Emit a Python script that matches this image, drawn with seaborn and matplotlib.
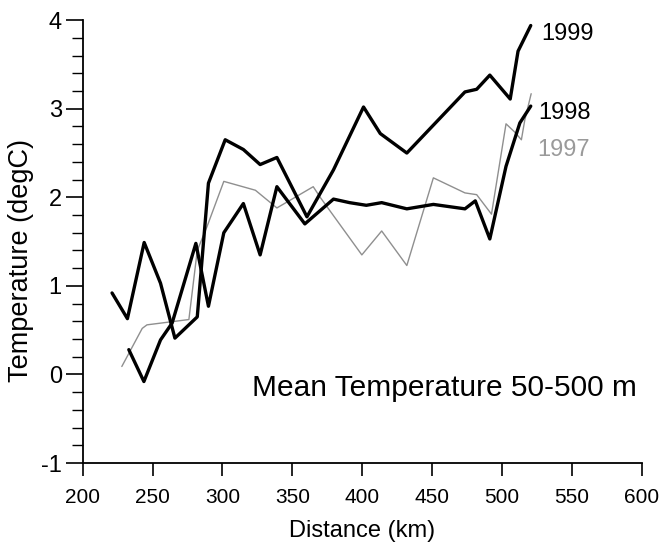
import pandas as pd
import matplotlib
matplotlib.use("Agg")
import matplotlib.pyplot as plt
import seaborn as sns
from matplotlib.ticker import MultipleLocator

# mean temperature 50-500 m along the section
dist_1999 = [221, 232, 244, 255.7, 266, 282, 290, 302, 315, 327, 339, 360.5, 379.5,
             401, 413, 432, 473.6, 482, 491.4, 506, 511.6, 520.7]
temp_1999 = [0.92, 0.63, 1.49, 1.03, 0.41, 0.65, 2.16, 2.65, 2.54, 2.37, 2.45, 1.78, 2.31,
             3.02, 2.72, 2.50, 3.19, 3.22, 3.38, 3.11, 3.65, 3.94]

dist_1998 = [233, 243.8, 255.7, 264, 281, 290, 301, 315, 327, 339, 359, 379.5, 391,
             403, 414, 432, 451, 473.6, 481, 491.4, 503, 512.9, 520.7]
temp_1998 = [0.28, -0.08, 0.39, 0.58, 1.48, 0.77, 1.60, 1.93, 1.35, 2.12, 1.70, 1.98, 1.94,
             1.91, 1.94, 1.87, 1.92, 1.87, 1.96, 1.53, 2.35, 2.84, 3.03]

dist_1997 = [228, 242.6, 246, 276, 282, 289, 301, 323.6, 339, 365, 370, 399.8, 414,
             432, 451, 473.6, 482, 492.6, 503, 509, 514, 516.4, 521]
temp_1997 = [0.09, 0.52, 0.56, 0.62, 1.40, 1.67, 2.18, 2.08, 1.88, 2.12, 2.00, 1.35, 1.62,
             1.23, 2.22, 2.05, 2.03, 1.81, 2.83, 2.74, 2.65, 2.87, 3.17]

sns.set_style("ticks")
plt.rcParams['font.family'] = ['Liberation Sans', 'DejaVu Sans']
plt.rcParams['axes.unicode_minus'] = False
plt.rcParams['text.color'] = 'black'
plt.rcParams['axes.labelcolor'] = 'black'
plt.rcParams['xtick.color'] = 'black'
plt.rcParams['ytick.color'] = 'black'

fig = plt.figure(figsize=(6.59, 5.46), dpi=100)
ax = fig.add_axes([0.1255, 0.152, 0.848, 0.811])

grey = '#8f8f8f'
sns.lineplot(x=dist_1997, y=temp_1997, sort=False, color=grey, linewidth=1.0, ax=ax)
sns.lineplot(x=dist_1998, y=temp_1998, sort=False, color='black', linewidth=2.4, ax=ax)
sns.lineplot(x=dist_1999, y=temp_1999, sort=False, color='black', linewidth=2.4, ax=ax)

ax.text(528, 3.84, "1999", fontsize=17, va='center', ha='left')
ax.text(526, 2.95, "1998", fontsize=17, va='center', ha='left')
ax.text(525, 2.53, "1997", fontsize=17, va='center', ha='left', color='#9a9a9a')
ax.text(321, -0.15, "Mean Temperature 50-500 m", fontsize=21.5, va='center', ha='left')

ax.set_xlim(200, 600)
ax.set_ylim(-1, 4)
ax.xaxis.set_major_locator(MultipleLocator(50))
ax.yaxis.set_major_locator(MultipleLocator(1))
ax.yaxis.set_minor_locator(MultipleLocator(0.2))
ax.tick_params(axis='both', which='major', width=1.2)
ax.tick_params(axis='x', which='major', length=9, labelsize=15, pad=9)
ax.tick_params(axis='y', which='major', length=12, labelsize=17, pad=3)
ax.tick_params(axis='y', which='minor', length=8, width=1.0)
ax.set_xlabel("Distance (km)", fontsize=17, labelpad=9)
ax.set_ylabel("Temperature (degC)", fontsize=19.5)
ax.yaxis.set_label_coords(-0.088, 0.458)
for s in ['left', 'bottom']:
    ax.spines[s].set_linewidth(1.3)
    ax.spines[s].set_color('black')
sns.despine(ax=ax)

fig.savefig("out.png", dpi=100)
plt.close(fig)
